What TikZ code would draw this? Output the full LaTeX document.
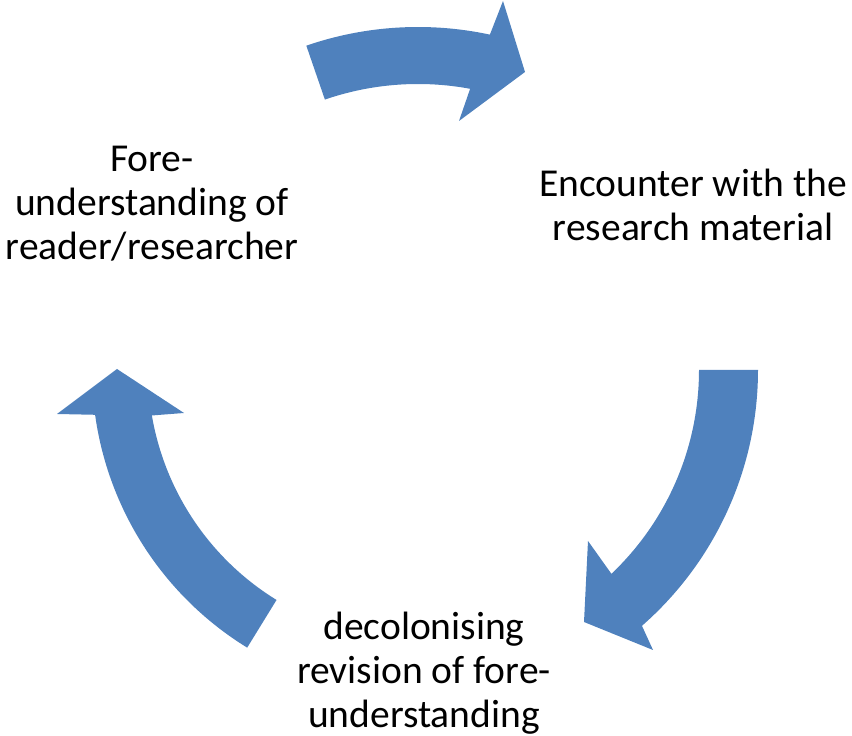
\documentclass[tikz,border=0pt]{standalone}
\usepackage{fontspec}
\setmainfont{Carlito}
\usepackage{xcolor}
\usetikzlibrary{calc}
\definecolor{arrowblue}{RGB}{79,129,189}

\begin{document}
\begin{tikzpicture}[x=0.02cm,y=0.02cm,
    txt/.style={align=center,inner sep=0pt,font=\fontsize{22.5}{25}\selectfont},
    blockarrow/.style={fill=arrowblue}]
  \useasboundingbox (0,0) rectangle (852,736);
  \coordinate (c) at (418,366);
  \node[txt] (fore) at (152,532){Fore-\\understanding of\\reader/researcher};
  \node[txt] (enc) at (693,531){Encounter with the\\research material};
  \node[txt] (dec) at (424,63){decolonising\\revision of fore-\\understanding};
  % top arrow
  \fill[blockarrow] (c) ++(109:343) arc[start angle=109,end angle=77.9,radius=343]
     -- (503,735) -- (525,664) -- (459,615) -- ($(c)+(79.5:286)$)
     arc[start angle=79.5,end angle=109,radius=286] -- cycle;
  % right arrow
  \fill[blockarrow] (c) ++(0:340) arc[start angle=0,end angle=-48.8,radius=340]
     -- (653,86) -- (584,114) -- (588,195) -- ($(c)+(-46.5:281)$)
     arc[start angle=-46.5,end angle=0,radius=281] -- cycle;
  % left arrow
  \fill[blockarrow] (c) ++(238.4:326) arc[start angle=238.4,end angle=187.9,radius=326]
     -- (57,322) -- (117,367) -- (184,323) -- ($(c)+(189.7:270)$)
     arc[start angle=189.7,end angle=238.4,radius=270] -- cycle;
\end{tikzpicture}
\end{document}
